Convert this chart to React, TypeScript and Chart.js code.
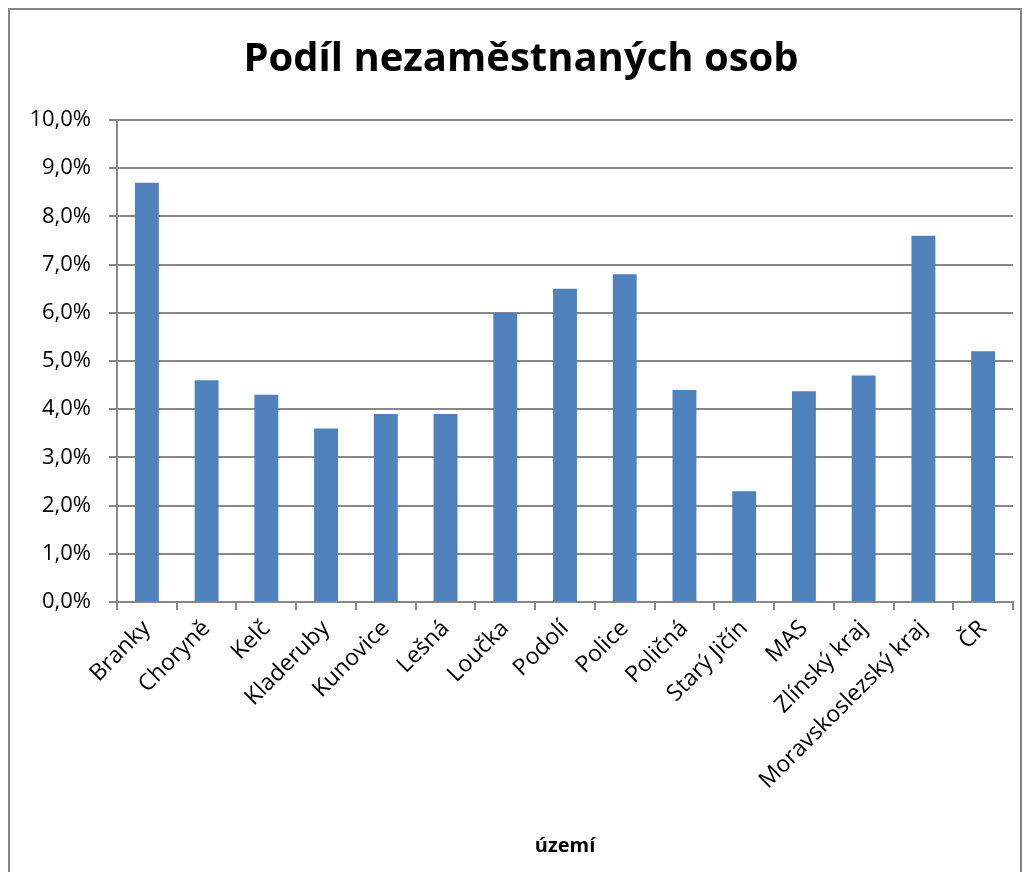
import React, { useEffect, useRef } from "react";
import { Chart, registerables } from "chart.js";

Chart.register(...registerables);

const categories = [
  "Branky",
  "Choryně",
  "Kelč",
  "Kladeruby",
  "Kunovice",
  "Lešná",
  "Loučka",
  "Podolí",
  "Police",
  "Poličná",
  "Starý Jičín",
  "MAS",
  "Zlínský kraj",
  "Moravskoslezský kraj",
  "ČR",
];

const values = [8.7, 4.6, 4.3, 3.6, 3.9, 3.9, 6.0, 6.5, 6.8, 4.4, 2.3, 4.37, 4.7, 7.6, 5.2];

const titleText = "Podíl nezaměstnaných osob";
const xTitle = "území";

const FONT = "'Open Sans', 'DejaVu Sans', sans-serif";

export default function App() {
  const ref = useRef<HTMLCanvasElement | null>(null);

  useEffect(() => {
    if (!ref.current) return;
    const chart = new Chart(ref.current, {
      type: "bar",
      data: {
        labels: categories,
        datasets: [
          {
            data: values,
            backgroundColor: "#4F81BD",
            borderWidth: 0,
            barPercentage: 0.4,
            categoryPercentage: 1.0,
          },
        ],
      },
      options: {
        animation: false,
        responsive: false,
        devicePixelRatio: 1,
        layout: { padding: { left: 19, right: 7, top: 0, bottom: 0 } },
        plugins: {
          legend: { display: false },
          tooltip: { enabled: false },
          title: {
            display: true,
            text: titleText,
            color: "#000",
            font: { family: FONT, size: 40, weight: "bold" },
            padding: { top: 26, bottom: 36 },
          },
        },
        scales: {
          x: {
            grid: {
              display: true,
              drawOnChartArea: false,
              drawTicks: true,
              tickLength: 8,
              color: "#888888",
              lineWidth: 2,
            },
            border: { display: true, color: "#888888", width: 2 },
            ticks: {
              color: "#000",
              font: { family: FONT, size: 23 },
              maxRotation: 45,
              minRotation: 45,
              autoSkip: false,
              padding: 5,
            },
            title: {
              display: true,
              text: xTitle,
              color: "#000",
              font: { family: FONT, size: 20, weight: "bold" },
              padding: { top: 0, bottom: 28 },
            },
            afterFit: (scale: any) => {
              scale.height = 284;
              scale.paddingRight = 0;
              scale.paddingLeft = 0;
            },
          },
          y: {
            min: 0,
            max: 10,
            grid: {
              color: "#888888",
              lineWidth: 2,
              tickLength: 8,
            },
            border: { display: true, color: "#888888", width: 2 },
            ticks: {
              stepSize: 1,
              color: "#000",
              font: { family: FONT, size: 22 },
              padding: 18,
              callback: (v: any) => Number(v).toFixed(1).replace(".", ",") + "%",
            },
            afterFit: (scale: any) => {
              scale.width = 88;
            },
          },
        },
      },
    });
    return () => chart.destroy();
  }, []);

  return (
    <div
      style={{
        width: 1014,
        height: 880,
        border: "2px solid #868686",
        boxSizing: "border-box",
        background: "#fff",
      }}
    >
      <canvas ref={ref} width={1010} height={876} style={{ display: "block" }} />
    </div>
  );
}
